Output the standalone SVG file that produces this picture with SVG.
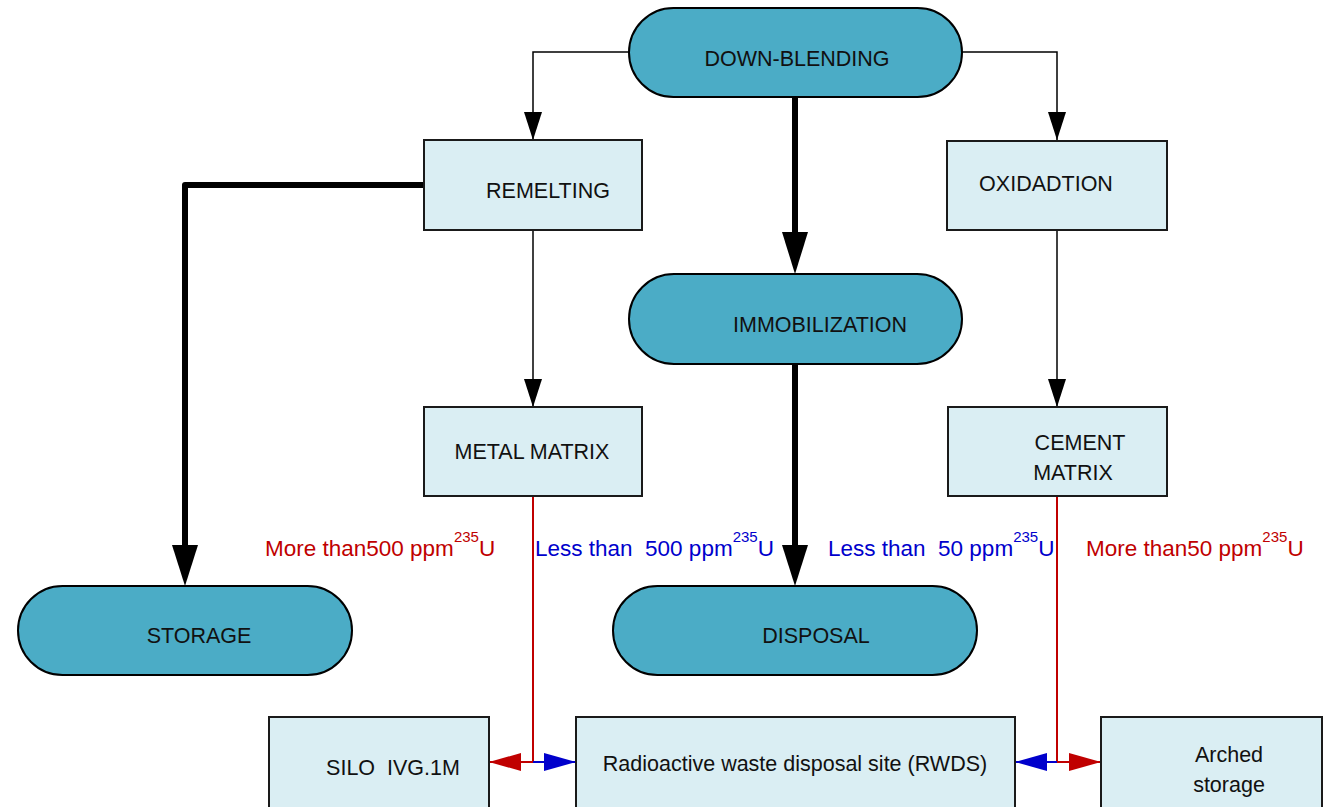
<svg xmlns="http://www.w3.org/2000/svg" width="1335" height="807" viewBox="0 0 1335 807">
<style>
.term{fill:#4BACC6;stroke:#000;stroke-width:2}
.box{fill:#DAEEF3;stroke:#1a1a1a;stroke-width:2}
.t{font-family:"Liberation Sans",Arial,sans-serif;font-size:21.5px;fill:#111;text-anchor:middle}
.lbl{font-family:"Liberation Sans",Arial,sans-serif;font-size:22.5px}
.sup{font-size:15px}
.red{fill:#C00000}
.blue{fill:#0000CC}
.thin{stroke:#000;stroke-width:1.5;fill:none}
.thick{stroke:#000;stroke-width:6;fill:none;stroke-linejoin:round;stroke-linecap:round}
.rl{stroke:#C00000;stroke-width:2;fill:none}
.bl{stroke:#0000CC;stroke-width:2;fill:none}
</style>
<defs>
<marker id="ah" markerUnits="userSpaceOnUse" markerWidth="28" markerHeight="18" refX="28" refY="9" viewBox="0 0 28 18" orient="auto"><path d="M0,0 L28,9 L0,18 Z" fill="#000"/></marker>
<marker id="ahR" markerUnits="userSpaceOnUse" markerWidth="32" markerHeight="18" refX="32" refY="9" viewBox="0 0 32 18" orient="auto"><path d="M0,0 L32,9 L0,18 Z" fill="#C00000"/></marker>
<marker id="ahB" markerUnits="userSpaceOnUse" markerWidth="32" markerHeight="18" refX="32" refY="9" viewBox="0 0 32 18" orient="auto"><path d="M0,0 L32,9 L0,18 Z" fill="#0000CC"/></marker>
</defs>
<g id="connectors">
<path class="thin" d="M629,52 H533 V140" marker-end="url(#ah)"/>
<path class="thin" d="M962,52 H1057 V140" marker-end="url(#ah)"/>
<path class="thick" d="M795,97 V240"/>
<path d="M782,232 L808,232 L795,274 Z" fill="#000"/>
<path class="thick" d="M424,185 H185 V550"/>
<path d="M172,545 L198,545 L185,586 Z" fill="#000"/>
<path class="thin" d="M533,230 V407" marker-end="url(#ah)"/>
<path class="thick" d="M795,364 V552"/>
<path d="M782,545 L808,545 L795,586 Z" fill="#000"/>
<path class="thin" d="M1057,230 V407" marker-end="url(#ah)"/>
<path class="rl" d="M533,496 V762 H489" marker-end="url(#ahR)"/>
<path class="bl" d="M533,762 H576" marker-end="url(#ahB)"/>
<path class="rl" d="M1057,496 V762 H1101" marker-end="url(#ahR)"/>
<path class="bl" d="M1057,762 H1015" marker-end="url(#ahB)"/>
</g>
<g id="down-blending"><rect class="term" x="629" y="8" width="333" height="89" rx="44.5"/><text class="t" x="797" y="66">DOWN-BLENDING</text></g>
<g id="remelting"><rect class="box" x="424" y="140" width="218" height="90"/><text class="t" x="548" y="198">REMELTING</text></g>
<g id="oxidadtion"><rect class="box" x="947" y="141" width="220" height="89"/><text class="t" x="1046" y="191">OXIDADTION</text></g>
<g id="immobilization"><rect class="term" x="629" y="274" width="333" height="90" rx="45"/><text class="t" x="820" y="332">IMMOBILIZATION</text></g>
<g id="metal-matrix"><rect class="box" x="424" y="407" width="218" height="89"/><text class="t" x="532" y="459">METAL MATRIX</text></g>
<g id="cement-matrix"><rect class="box" x="948" y="407" width="219" height="89"/><text class="t" x="1080" y="450">CEMENT</text><text class="t" x="1073" y="480">MATRIX</text></g>
<g id="storage"><rect class="term" x="18" y="586" width="334" height="89" rx="44.5"/><text class="t" x="199" y="643">STORAGE</text></g>
<g id="disposal"><rect class="term" x="613" y="586" width="364" height="89" rx="44.5"/><text class="t" x="816" y="643">DISPOSAL</text></g>
<g id="silo"><rect class="box" x="269" y="717" width="220" height="95"/><text class="t" x="393" y="775" xml:space="preserve">SILO  IVG.1M</text></g>
<g id="rwds"><rect class="box" x="576" y="717" width="439" height="95"/><text class="t" x="795" y="771">Radioactive waste disposal site (RWDS)</text></g>
<g id="arched"><rect class="box" x="1101" y="717" width="221" height="95"/><text class="t" x="1229" y="762">Arched</text><text class="t" x="1229" y="792">storage</text></g>
<g id="labels">
<text class="lbl red" x="265" y="556">More than500 ppm<tspan class="sup" dy="-14">235</tspan><tspan dy="14">U</tspan></text>
<text class="lbl blue" x="535" y="556" xml:space="preserve">Less than  500 ppm<tspan class="sup" dy="-14">235</tspan><tspan dy="14">U</tspan></text>
<text class="lbl blue" x="828" y="556" xml:space="preserve">Less than  50 ppm<tspan class="sup" dy="-14">235</tspan><tspan dy="14">U</tspan></text>
<text class="lbl red" x="1086" y="556">More than50 ppm<tspan class="sup" dy="-14">235</tspan><tspan dy="14">U</tspan></text>
</g>
</svg>
